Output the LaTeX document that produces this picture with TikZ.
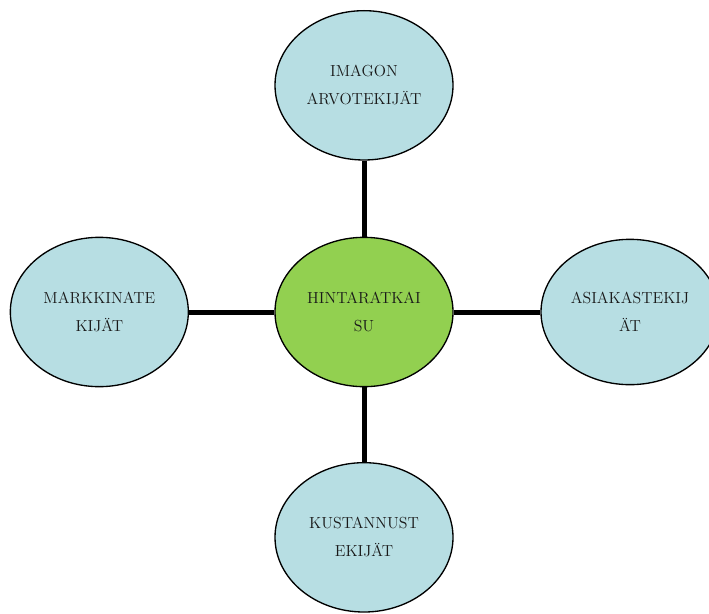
\documentclass[tikz,border=0pt]{standalone}
\usepackage{fontspec}
\usepackage{xcolor}
\usepackage{tikz}
\usetikzlibrary{shapes,positioning}

\definecolor{bubbleblue}{HTML}{B7DEE3}
\definecolor{hubgreen}{HTML}{92D050}

\begin{document}
\begin{tikzpicture}[
    x=0.75pt, y=-0.75pt,
    node distance=57pt,
    bubble/.style={ellipse, draw, line width=1pt, fill=bubbleblue, minimum width=133.5pt, minimum height=112pt, inner sep=0pt, align=center, text=black!90, font=\fontsize{12}{21}\selectfont},
    hub/.style={bubble, fill=hubgreen},
    link/.style={line width=3.75pt}
]
\useasboundingbox (0,0) rectangle (709,613);
\node[hub] (hinta) at (364,312) {HINTARATKAI\\SU};
\node[bubble, above=57pt of hinta] (imago) {IMAGON\\ARVOTEKIJÄT};
\node[bubble, left=64pt of hinta] (markkina) {MARKKINATE\\KIJÄT};
\node[bubble, right=65pt of hinta, minimum height=109pt] (asiakas) {ASIAKASTEKIJ\\ÄT};
\node[bubble, below=56pt of hinta] (kustannus) {KUSTANNUST\\EKIJÄT};

\draw[link] (hinta) -- (imago);
\draw[link] (hinta) -- (markkina);
\draw[link] (hinta) -- (asiakas);
\draw[link] (hinta) -- (kustannus);
\end{tikzpicture}
\end{document}
